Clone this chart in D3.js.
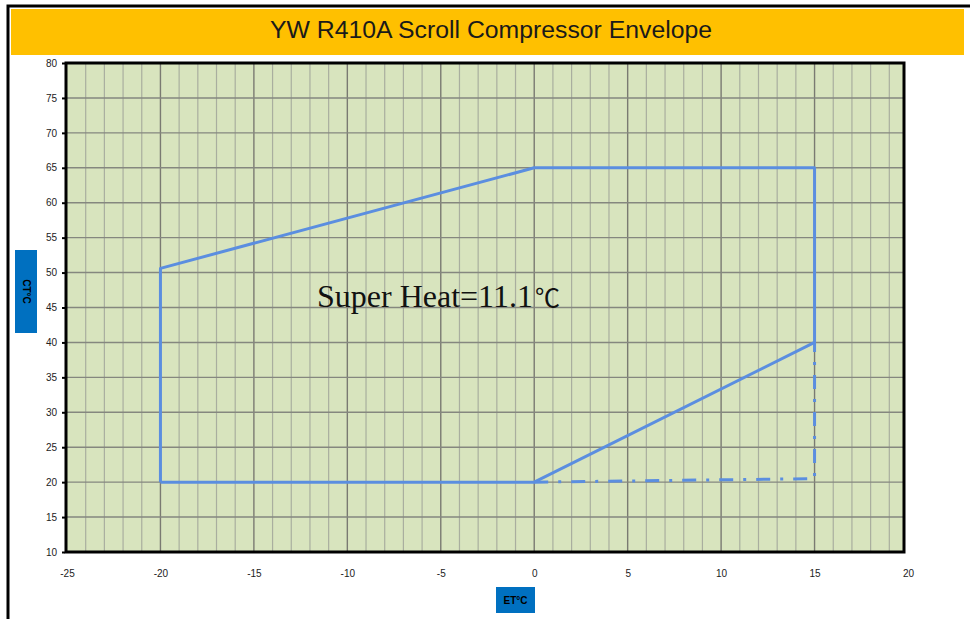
<!DOCTYPE html>
<html><head><meta charset="utf-8">
<script src="https://cdn.jsdelivr.net/npm/d3@7"></script>
<style>body{margin:0;background:#fff}svg{display:block}</style>
</head><body>
<svg id="c" width="970" height="619"></svg>
<script>
const title = "YW R410A Scroll Compressor Envelope";
const xTicks = [-25,-20,-15,-10,-5,0,5,10,15,20];
const yTicks = [10,15,20,25,30,35,40,45,50,55,60,65,70,75,80];
const envelopeET = [-20,-20,0,15,15,0,-20];
const envelopeCT = [20,50.6,65,65,40,20,20];
const dashET = [0,15,15];
const dashCT = [20,20.5,40];
const annotation = "Super Heat=11.1";
const xLabel = "ET°C", yLabel = "CT°C";

const svg = d3.select("#c");
const L=66, R=904, T=63, B=552;
const x = d3.scaleLinear().domain([-25,20]).range([67,908]);
const y = d3.scaleLinear().domain([10,80]).range([B,T]);

// outer frame
svg.append("path").attr("d","M8,619 L8,6 L970,6").attr("fill","none").attr("stroke","#000").attr("stroke-width",3);
svg.append("rect").attr("x",11).attr("y",9).attr("width",953).attr("height",46).attr("fill","#FFC000");
svg.append("text").attr("x",270).attr("y",37.5)
  .attr("font-family","Liberation Sans, Arial, sans-serif").attr("font-size",23).attr("fill","#1a1a1a")
  .attr("textLength",442).attr("lengthAdjust","spacingAndGlyphs").text(title);

// plot background
svg.append("rect").attr("x",L).attr("y",T).attr("width",R-L).attr("height",B-T).attr("fill","#D8E4BE");
const g = svg.append("g");
d3.range(-24,20).filter(v=>v%5!==0).forEach(v=>{
  g.append("line").attr("x1",x(v)).attr("x2",x(v)).attr("y1",T).attr("y2",B).attr("stroke","#A9AE9F").attr("stroke-width",1.2);
});
xTicks.slice(1,-1).forEach(v=>{
  g.append("line").attr("x1",x(v)).attr("x2",x(v)).attr("y1",T).attr("y2",B).attr("stroke","#7A7A72").attr("stroke-width",1.4);
});
yTicks.slice(1,-1).forEach(v=>{
  g.append("line").attr("x1",L).attr("x2",R).attr("y1",y(v)).attr("y2",y(v)).attr("stroke","#85877F").attr("stroke-width",1.4);
});
svg.append("rect").attr("x",L).attr("y",T).attr("width",R-L).attr("height",B-T).attr("fill","none").attr("stroke","#000").attr("stroke-width",3);

// axes
const fmt = d => String(d);
const yAxis = svg.append("g").attr("transform",`translate(${L-1},0)`).call(d3.axisLeft(y).tickValues(yTicks).tickFormat(fmt).tickSize(3).tickPadding(5));
const xAxis = svg.append("g").attr("transform",`translate(0,${B})`).call(d3.axisBottom(x).tickValues(xTicks).tickFormat(fmt).tickSize(0).tickPadding(18));
[yAxis,xAxis].forEach(a=>{
  a.select(".domain").remove();
  a.selectAll("text").attr("font-family","Liberation Sans, Arial, sans-serif").attr("font-size",10).attr("fill","#222");
  a.selectAll("line").attr("stroke","#000").attr("stroke-width",2);
});

// envelope
const line = d3.line().x(d=>x(d[0])).y(d=>y(d[1]));
svg.append("path").datum(envelopeET.map((v,i)=>[v,envelopeCT[i]])).attr("d",line)
  .attr("fill","none").attr("stroke","#5B8EE0").attr("stroke-width",3).attr("stroke-linejoin","round");
svg.append("path").datum(dashET.map((v,i)=>[v,dashCT[i]])).attr("d",line)
  .attr("fill","none").attr("stroke","#5B8EE0").attr("stroke-width",3).attr("stroke-dasharray","14,10,3,10");

// annotation
const t = svg.append("text").attr("x",317).attr("y",307).attr("font-family","Liberation Serif, Times New Roman, serif").attr("font-size",32).attr("fill","#111");
t.append("tspan").text(annotation);
t.append("tspan").attr("font-size",25).attr("font-family","Noto Sans CJK SC").attr("dx",2).text("℃");

// axis title boxes
svg.append("rect").attr("x",496).attr("y",587).attr("width",39).attr("height",26).attr("fill","#0070C0");
svg.append("text").attr("x",515.5).attr("y",604).attr("text-anchor","middle").attr("font-family","Liberation Sans, Arial, sans-serif")
  .attr("font-size",10).attr("font-weight","bold").attr("fill","#000").text(xLabel);
svg.append("rect").attr("x",15).attr("y",250).attr("width",22).attr("height",83).attr("fill","#0070C0");
svg.append("text").attr("transform","translate(23,291.5) rotate(90)").attr("text-anchor","middle").attr("font-family","Liberation Sans, Arial, sans-serif")
  .attr("font-size",10).attr("font-weight","bold").attr("fill","#000").text(yLabel);
</script>
</body></html>
